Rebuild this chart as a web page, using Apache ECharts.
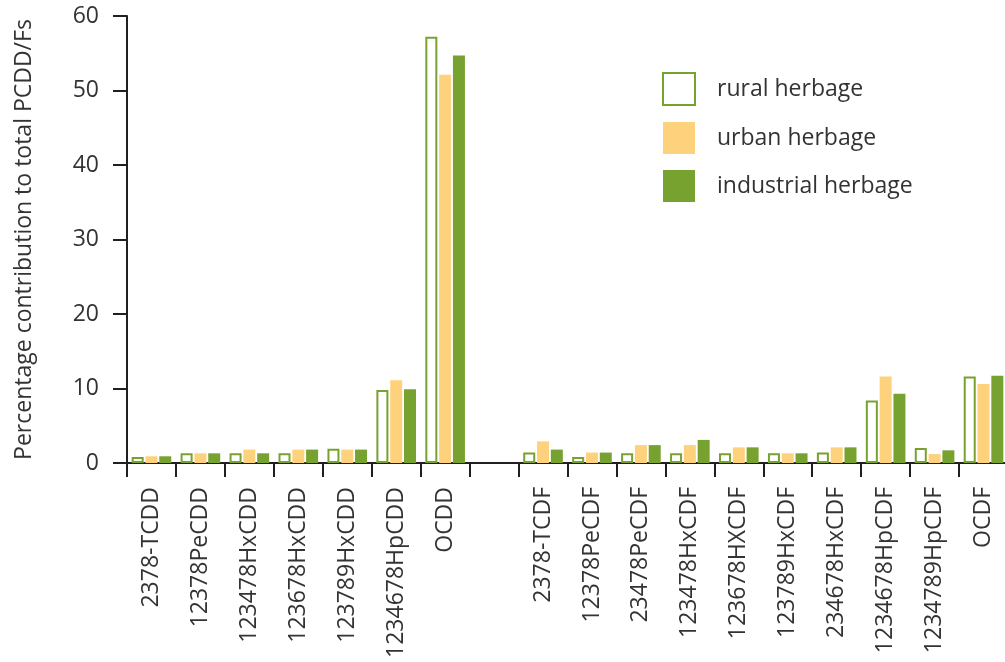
<!DOCTYPE html>
<html>
  <head>
    <meta charset="utf-8" />
    <script src="https://cdn.jsdelivr.net/npm/echarts@6.0.0/dist/echarts.min.js"></script>
    <style>
      html, body { margin: 0; padding: 0; background: #fff; }
    </style>
  </head>
  <body>
    <div id="main" style="width: 1005px; height: 662px"></div>

    <script type="text/javascript">
      // congeners (empty slot separates PCDDs from PCDFs)
      var congeners = [
        "2378-TCDD", "12378PeCDD", "123478HxCDD", "123678HxCDD", "123789HxCDD",
        "1234678HpCDD", "OCDD", "",
        "2378-TCDF", "12378PeCDF", "23478PeCDF", "123478HxCDF", "123678HXCDF",
        "123789HxCDF", "234678HxCDF", "1234678HpCDF", "1234789HpCDF", "OCDF"
      ];
      var rural = [0.8, 1.3, 1.3, 1.3, 1.9, 9.8, 57.2, null,
        1.4, 0.8, 1.3, 1.3, 1.3, 1.3, 1.4, 8.4, 2.0, 11.6];
      var urban = [0.9, 1.3, 1.8, 1.8, 1.8, 11.1, 52.1, null,
        2.9, 1.4, 2.4, 2.4, 2.1, 1.3, 2.1, 11.6, 1.2, 10.6];
      var industrial = [0.9, 1.3, 1.3, 1.8, 1.8, 9.9, 54.7, null,
        1.8, 1.4, 2.4, 3.1, 2.1, 1.3, 2.1, 9.3, 1.7, 11.7];

      var green = "#78a22f";
      var yellow = "#fed27c";
      var ink = "#231f20";
      var txt = "#333333";
      var font = "Open Sans";

      var myChart = echarts.init(document.getElementById("main"));

      var option = {
        animation: false,
        textStyle: { fontFamily: font },
        grid: { left: 127, top: 16, right: -3, bottom: 199, outerBoundsMode: "none", containLabel: false },
        legend: {
          orient: "vertical",
          left: 657,
          top: 67,
          itemWidth: 32,
          itemHeight: 32,
          itemGap: 16,
          textStyle: { fontSize: 23, color: txt, fontFamily: font, padding: [0, 0, 0, 17] },
          data: [
            { name: "rural herbage", icon: "rect" },
            { name: "urban herbage", icon: "rect" },
            { name: "industrial herbage", icon: "rect" }
          ]
        },
        xAxis: {
          type: "category",
          data: congeners,
          boundaryGap: true,
          axisLine: { show: true, onZero: false, lineStyle: { color: ink, width: 2 } },
          axisTick: {
            show: true,
            inside: false,
            alignWithLabel: false,
            length: 14,
            interval: 0,
            lineStyle: { color: ink, width: 2 }
          },
          axisLabel: {
            rotate: 90,
            interval: 0,
            margin: 24,
            fontSize: 23,
            color: txt,
            fontFamily: font
          }
        },
        yAxis: {
          type: "value",
          min: 0,
          max: 60,
          interval: 10,
          name: "Percentage contribution to total PCDD/Fs",
          nameLocation: "middle",
          nameGap: 91,
          nameTextStyle: { fontSize: 23, color: txt, fontFamily: font },
          splitLine: { show: false },
          axisLine: { show: true, lineStyle: { color: ink, width: 2 } },
          axisTick: { show: true, length: 14, lineStyle: { color: ink, width: 2 } },
          axisLabel: { fontSize: 23, color: txt, margin: 28, fontFamily: font }
        },
        series: [
          {
            name: "rural herbage",
            type: "bar",
            data: rural,
            barWidth: 12,
            barGap: "15%",
            itemStyle: { color: "#ffffff", borderColor: green, borderWidth: 2 }
          },
          {
            name: "urban herbage",
            type: "bar",
            data: urban,
            barWidth: 12,
            barGap: "15%",
            itemStyle: { color: yellow }
          },
          {
            name: "industrial herbage",
            type: "bar",
            data: industrial,
            barWidth: 12,
            barGap: "15%",
            itemStyle: { color: green }
          }
        ]
      };

      myChart.setOption(option);
    </script>
  </body>
</html>
